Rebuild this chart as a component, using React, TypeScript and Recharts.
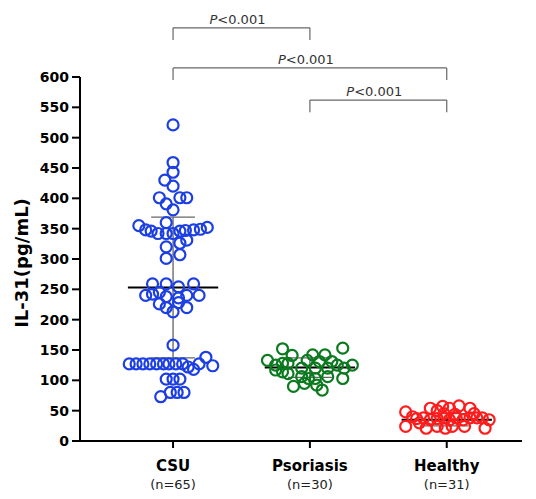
import { ScatterChart, Scatter, XAxis, YAxis, ReferenceLine } from 'recharts';

const groups = ['CSU', 'Psoriasis', 'Healthy'];
const counts = ['(n=65)', '(n=30)', '(n=31)'];
const colors = ['#1c3fe3', '#0c7a1f', '#ff1c1c'];
const yTicks = [0, 50, 100, 150, 200, 250, 300, 350, 400, 450, 500, 550, 600];

// [horizontal offset from group centre, IL-31 value]
const csuPoints = [
  [0, 521], [0, 459], [0, 443], [-0.06, 430], [0, 420], [-0.1, 401], [0.05, 401], [0.1, 401], [-0.05, 391], [0, 381],
  [-0.25, 355], [-0.05, 360], [-0.2, 348], [-0.16, 346], [-0.11, 342], [-0.05, 342], [0, 342], [0.05, 346], [0.09, 347], [0.15, 348], [0.2, 349], [0.25, 352],
  [0.1, 331], [0.05, 326], [-0.05, 320], [0.05, 307], [-0.05, 301],
  [-0.15, 259], [-0.05, 259], [0.04, 254], [0.15, 259],
  [-0.2, 240], [-0.15, 242], [-0.1, 245], [-0.05, 238], [0.04, 236], [0.1, 240], [0.19, 240],
  [-0.1, 226], [-0.05, 220], [0, 213], [0.1, 220], [0.04, 228],
  [0, 158],
  [-0.32, 127], [-0.27, 127], [-0.22, 127], [-0.17, 127], [-0.12, 127], [-0.07, 127], [-0.03, 127], [0.02, 127], [0.07, 127], [0.11, 122], [0.15, 118], [0.19, 127], [0.24, 138], [0.29, 124],
  [-0.05, 102], [0, 102], [0.05, 102],
  [-0.09, 73], [-0.02, 80], [0.03, 80], [0.08, 80],
];
const psoriasisPoints = [
  [-0.2, 152], [0.24, 153], [-0.13, 141], [-0.31, 133], [-0.25, 125], [-0.2, 128], [-0.16, 128], [0.02, 142], [-0.02, 133], [0.11, 142],
  [0.07, 131], [0.16, 131], [0.2, 125], [0.31, 125], [0.25, 120], [-0.25, 117], [-0.2, 114], [-0.16, 111], [-0.06, 120], [0.04, 120],
  [0.13, 120], [-0.06, 106], [-0.01, 103], [0.04, 103], [0.13, 106], [0.24, 103], [-0.12, 90], [-0.04, 95], [0.05, 92], [0.09, 84],
];
const healthyPoints = [
  [-0.3, 48], [-0.3, 24], [-0.12, 54], [-0.07, 50], [-0.03, 57], [0.02, 54], [0.09, 58], [0.17, 54], [-0.22, 37], [-0.17, 38],
  [-0.12, 35], [-0.07, 37], [-0.02, 38], [0.02, 35], [0.07, 38], [0.12, 35], [0.17, 38], [0.22, 38], [0.26, 38], [0.31, 35],
  [-0.15, 21], [-0.07, 24], [-0.01, 21], [0.04, 24], [0.13, 24], [0.28, 21], [-0.25, 40], [-0.02, 45], [0.06, 44], [0.2, 45],
  [-0.2, 30],
];

const means = [253, 121, 35];
const sds = [116, 16, 10];

// significance brackets: [group a, group b, level]
const comparisons = [[1, 2, 681], [1, 3, 615], [2, 3, 562]];
const pLabels = ['P<0.001', 'P<0.001', 'P<0.001'];

const allPoints = [csuPoints, psoriasisPoints, healthyPoints];
const seriesData = allPoints.map((pts, i) => pts.map(([dx, v]) => ({ x: i + 1 + dx, y: v })));

const FONT = '"DejaVu Sans", sans-serif';
const MEAN_HALF = 0.33;
const CAP_HALF = 0.16;
const DROP = 20;

function CategoryTick(props: any) {
  const { x, y, payload } = props;
  const i = Math.round(payload.value) - 1;
  return (
    <g>
      <text x={x} y={y + 21} textAnchor="middle" fontFamily={FONT} fontWeight="bold" fontSize={15} fill="#000">
        {groups[i]}
      </text>
      <text x={x} y={y + 39} textAnchor="middle" fontFamily={FONT} fontSize={13} fill="#222">
        {counts[i]}
      </text>
    </g>
  );
}

function pLabel(text: string) {
  return (props: any) => {
    const vb = props.viewBox;
    const cx = vb.x + vb.width / 2 - 4;
    return (
      <text x={cx} y={vb.y - 4} textAnchor="middle" fontFamily={FONT} fontSize={13} fill="#333">
        <tspan fontStyle="italic">{text.slice(0, 1)}</tspan>
        {text.slice(1)}
      </text>
    );
  };
}

function yLabel(props: any) {
  const vb = props.viewBox;
  const cx = vb.x + 21;
  const cy = vb.y + vb.height / 2 + 4;
  return (
    <text x={cx} y={cy} transform={`rotate(-90 ${cx} ${cy})`} textAnchor="middle" dominantBaseline="central" fontFamily={FONT} fontWeight="bold" fontSize={18} fill="#000">
      IL-31(pg/mL)
    </text>
  );
}

export default function App() {
  return (
    <div style={{ position: 'absolute', left: 0, top: 0, width: 536, height: 499, background: '#fff' }}>
      <ScatterChart width={536} height={499} margin={{ top: 77, right: 14, bottom: 0, left: 0 }}>
        <XAxis
          type="number"
          dataKey="x"
          domain={[0.32, 3.55]}
          ticks={[1, 2, 3]}
          height={58}
          tickSize={7}
          axisLine={{ stroke: '#000', strokeWidth: 2 }}
          tickLine={{ stroke: '#000', strokeWidth: 2 }}
          tick={<CategoryTick />}
          allowDataOverflow
        />
        <YAxis
          type="number"
          dataKey="y"
          domain={[0, 600]}
          ticks={yTicks}
          width={80}
          tickSize={8}
          tickMargin={3}
          interval={0}
          axisLine={{ stroke: '#000', strokeWidth: 2 }}
          tickLine={{ stroke: '#000', strokeWidth: 2 }}
          tick={{ fill: '#000', fontSize: 14, fontWeight: 'bold', fontFamily: FONT }}
          label={{ content: yLabel }}
        />
        {seriesData.map((d, i) => (
          <Scatter
            key={groups[i]}
            data={d}
            isAnimationActive={false}
            shape={(p: any) => <circle cx={p.cx} cy={p.cy} r={5.5} fill="none" stroke={colors[i]} strokeWidth={2.2} />}
          />
        ))}
        {means.map((m, i) => (
          <ReferenceLine key={'sd' + i} segment={[{ x: i + 1, y: m - sds[i] }, { x: i + 1, y: m + sds[i] }]} stroke="#555" strokeWidth={1.2} ifOverflow="visible" />
        ))}
        {means.map((m, i) => (
          <ReferenceLine key={'capu' + i} segment={[{ x: i + 1 - CAP_HALF, y: m + sds[i] }, { x: i + 1 + CAP_HALF, y: m + sds[i] }]} stroke="#666" strokeWidth={1.2} ifOverflow="visible" />
        ))}
        {means.map((m, i) => (
          <ReferenceLine key={'capl' + i} segment={[{ x: i + 1 - CAP_HALF, y: m - sds[i] }, { x: i + 1 + CAP_HALF, y: m - sds[i] }]} stroke="#666" strokeWidth={1.2} ifOverflow="visible" />
        ))}
        {means.map((m, i) => (
          <ReferenceLine key={'mean' + i} segment={[{ x: i + 1 - MEAN_HALF, y: m }, { x: i + 1 + MEAN_HALF, y: m }]} stroke="#000" strokeWidth={2} ifOverflow="visible" />
        ))}
        {comparisons.map(([a, b, lvl], i) => (
          <ReferenceLine
            key={'br' + i}
            segment={[{ x: a, y: lvl }, { x: b, y: lvl }]}
            stroke="#666"
            strokeWidth={1.2}
            ifOverflow="visible"
            label={{ content: pLabel(pLabels[i]) }}
          />
        ))}
        {comparisons.map(([a, , lvl], i) => (
          <ReferenceLine key={'bra' + i} segment={[{ x: a, y: lvl }, { x: a, y: lvl - DROP }]} stroke="#666" strokeWidth={1.2} ifOverflow="visible" />
        ))}
        {comparisons.map(([, b, lvl], i) => (
          <ReferenceLine key={'brb' + i} segment={[{ x: b, y: lvl }, { x: b, y: lvl - DROP }]} stroke="#666" strokeWidth={1.2} ifOverflow="visible" />
        ))}
      </ScatterChart>
    </div>
  );
}
